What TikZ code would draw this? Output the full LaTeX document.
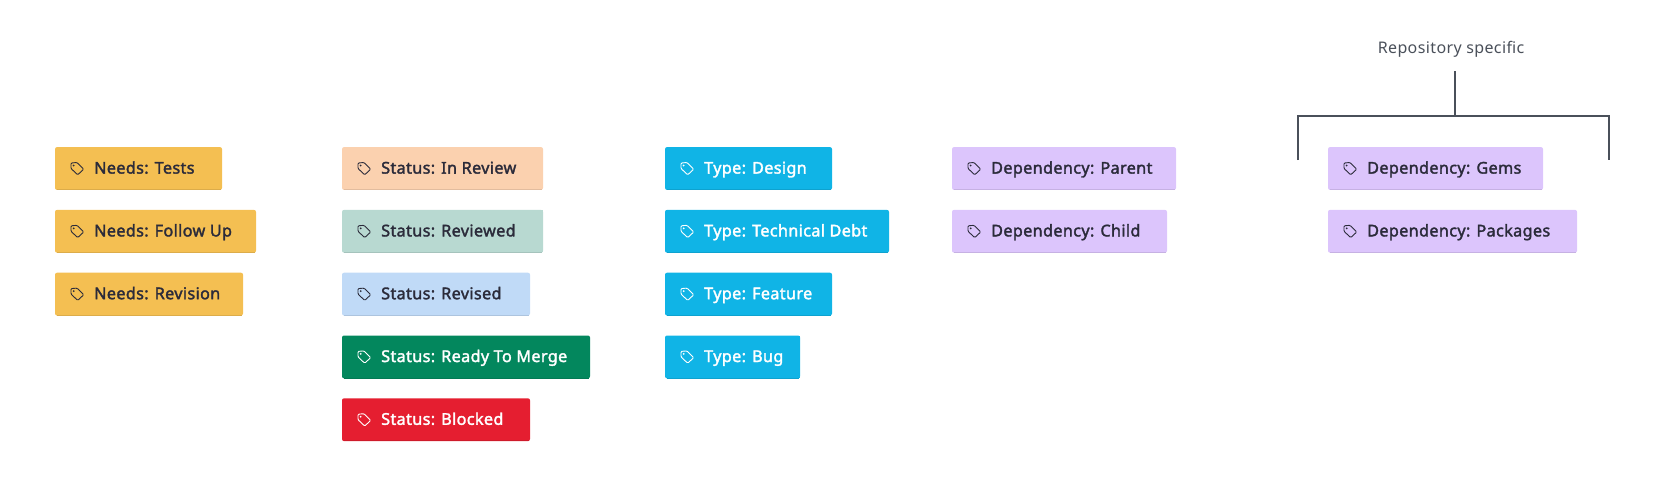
\documentclass[tikz,border=0pt]{standalone}
\usepackage{fontspec}
\setmainfont{Noto Sans}[LetterSpace=2.4]
\newfontfamily\badgefont{Noto Sans}[FakeBold=2,LetterSpace=2.2]
\usetikzlibrary{positioning}

\definecolor{needscol}{HTML}{F4BF52}
\definecolor{inreviewcol}{HTML}{FBD1AF}
\definecolor{reviewedcol}{HTML}{B8D9D1}
\definecolor{revisedcol}{HTML}{C0DAF7}
\definecolor{readycol}{HTML}{03875D}
\definecolor{blockedcol}{HTML}{E51E30}
\definecolor{typecol}{HTML}{10B4E6}
\definecolor{depcol}{HTML}{DCC5FC}
\definecolor{inkcol}{HTML}{2B2B3A}
\definecolor{bracketcol}{HTML}{4A505A}

% #1 name, #2 placement, #3 width, #4 fill, #5 ink, #6 label
\newcommand{\badge}[6]{%
  \node[badgebox, fill=#4, minimum width=#3pt, #2] (#1) {};
  \draw[#4!90!black, line width=0.7pt] ([xshift=1.5pt,yshift=0.35pt]#1.south west) -- ([xshift=-1.5pt,yshift=0.35pt]#1.south east);
  \pic[#5] at ([xshift=22pt]#1.west) {tagicon};
  \node[badgelabel, text=#5] (#1text) at ([xshift=39pt,yshift=0.7pt]#1.west) {#6};
}

\begin{document}
\begin{tikzpicture}[
    x=1pt, y=-1pt,
    badgebox/.style={rectangle, rounded corners=2pt, minimum height=42.8pt, inner sep=0pt, outer sep=0pt, anchor=north west},
    badgelabel/.style={anchor=west, inner sep=0pt, text height=11.6pt, text depth=0pt, font=\badgefont\fontsize{16.2}{19}\selectfont},
    bracket/.style={draw=bracketcol, line width=2pt},
    tagicon/.pic={
        \draw[line width=0.9pt, rounded corners=1pt, line join=round]
            (-6,-5.5) -- (0,-6) -- (6.7,0.7) -- (0.7,6.3) -- (-6,0) -- cycle;
        \fill (-3.3,-3) circle (1pt);
    },
]
\useasboundingbox (0,0) rectangle (1672,493.4);

% Needs
\badge{needstests}{at={(55,147.1)}}{167}{needscol}{inkcol}{Needs: Tests}
\badge{needsfollow}{below=20pt of needstests.south west, anchor=north west}{201}{needscol}{inkcol}{Needs: Follow Up}
\badge{needsrevision}{below=20pt of needsfollow.south west, anchor=north west}{188}{needscol}{inkcol}{Needs: Revision}

% Status
\badge{statusinreview}{at={(342,147.1)}}{201}{inreviewcol}{inkcol}{Status: In Review}
\badge{statusreviewed}{below=20pt of statusinreview.south west, anchor=north west}{201}{reviewedcol}{inkcol}{Status: Reviewed}
\fill[reviewedcol] ([xshift=-4pt]statusreviewed.north east) rectangle ([yshift=0.7pt]statusreviewed.south east);
\badge{statusrevised}{below=20pt of statusreviewed.south west, anchor=north west}{188}{revisedcol}{inkcol}{Status: Revised}
\badge{statusready}{below=20pt of statusrevised.south west, anchor=north west}{248}{readycol}{white}{Status: Ready To Merge}
\badge{statusblocked}{below=20pt of statusready.south west, anchor=north west}{188}{blockedcol}{white}{Status: Blocked}

% Type
\badge{typedesign}{at={(665,147.1)}}{167}{typecol}{white}{Type: Design}
\badge{typedebt}{below=20pt of typedesign.south west, anchor=north west}{224}{typecol}{white}{Type: Technical Debt}
\badge{typefeature}{below=20pt of typedebt.south west, anchor=north west}{167}{typecol}{white}{Type: Feature}
\badge{typebug}{below=20pt of typefeature.south west, anchor=north west}{135}{typecol}{white}{Type: Bug}
\fill[typecol] ([xshift=-4pt]typebug.north east) rectangle ([yshift=0.7pt]typebug.south east);

% Dependency
\badge{depparent}{at={(952,147.1)}}{224}{depcol}{inkcol}{Dependency: Parent}
\badge{depchild}{below=20pt of depparent.south west, anchor=north west}{215}{depcol}{inkcol}{Dependency: Child}

% Repository specific
\badge{depgems}{at={(1328,147.1)}}{215}{depcol}{inkcol}{Dependency: Gems}
\badge{deppackages}{below=20pt of depgems.south west, anchor=north west}{249}{depcol}{inkcol}{Dependency: Packages}

\node[inner sep=0pt, text=bracketcol, font=\fontsize{16}{19}\selectfont] (repolabel) at (1451,49) {Repository specific};

% Bracket
\coordinate (stemtop) at (1455,71);
\coordinate (stemfoot) at (1455,116);
\coordinate (legleft) at (1297.5,160);
\coordinate (legright) at (1608.5,160);
\draw[bracket] (stemtop) -- (stemfoot);
\draw[bracket] (legleft) |- (stemfoot) -| (legright);

\end{tikzpicture}
\end{document}
